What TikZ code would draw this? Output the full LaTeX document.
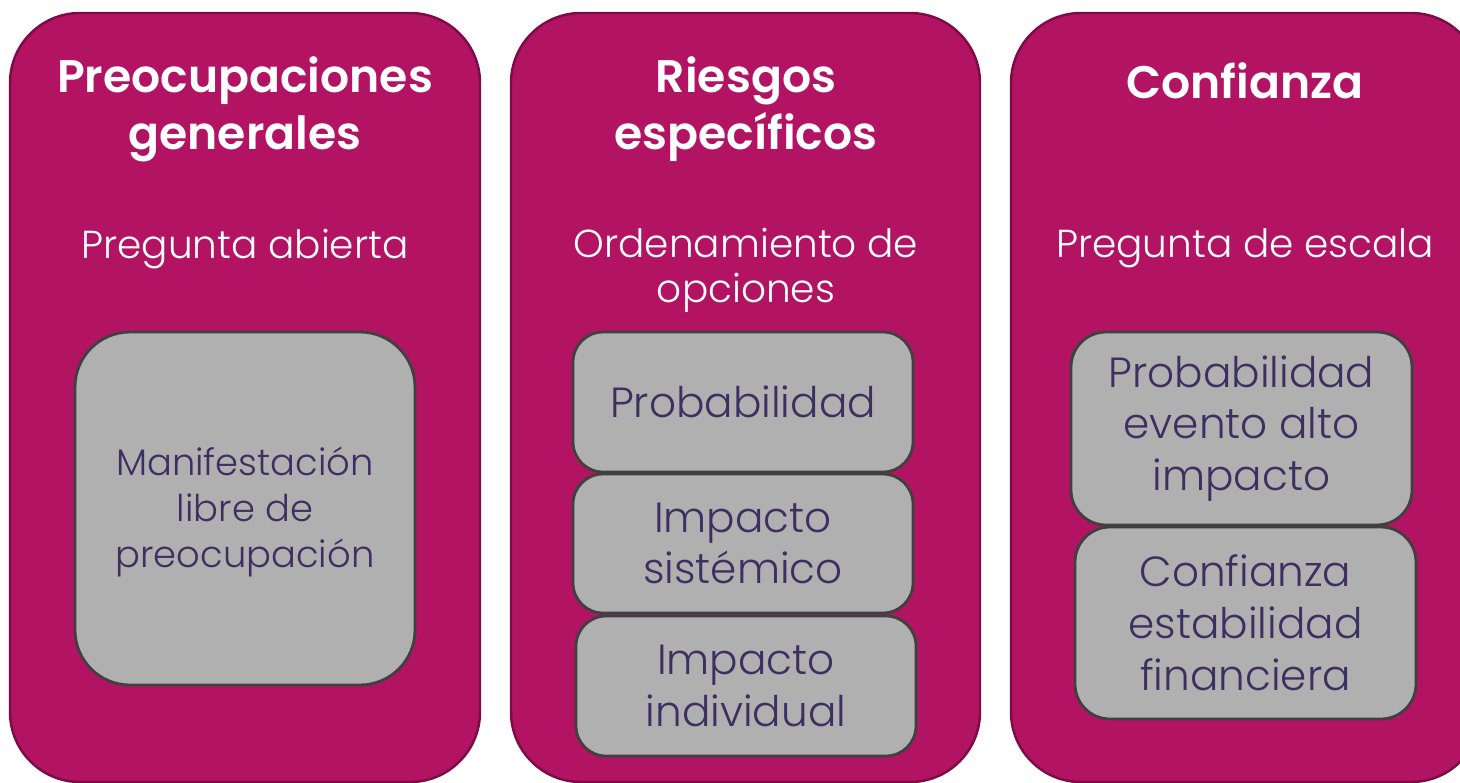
\documentclass[tikz,border=0pt]{standalone}
\usepackage{fontspec}
\setmainfont{Poppins}[UprightFont=* Light, BoldFont=* SemiBold]
\definecolor{magfill}{HTML}{B21463}
\definecolor{magline}{HTML}{7D0B45}
\definecolor{boxgray}{HTML}{B0B0B0}
\definecolor{boxline}{HTML}{404040}
\definecolor{txtpurple}{HTML}{3B3060}
\begin{document}
\begin{tikzpicture}[x=0.02cm,y=-0.02cm,
  panel/.style={fill=magfill,draw=magline,line width=1.4pt,rounded corners=1.4cm},
  ttl/.style={text=white,font=\fontsize{26}{32.5}\selectfont\bfseries,align=center,inner sep=0pt},
  sub/.style={text=white,font=\fontsize{22.2}{25.5}\selectfont,align=center,inner sep=0pt},
  item/.style={fill=boxgray,draw=boxline,line width=1.6pt,text=txtpurple,align=center,inner sep=0pt,font=\fontsize{24}{29.5}\selectfont}]
\useasboundingbox (0,0) rectangle (1460,782);
% panels
\draw[panel] (10,13) rectangle (480,782);
\draw[panel] (511,13) rectangle (980,782);
\draw[panel] (1011,13) rectangle (1481,782);
% titles
\node[ttl] (t1) at (245,109) {Preocupaciones\\generales};
\node[ttl] (t2) at (746,109) {Riesgos\\específicos};
\node[ttl] (t3) at (1245,81) {Confianza};
\node[sub] (s1) at (245,249) {Pregunta abierta};
\node[sub] (s2) at (746,270) {Ordenamiento de\\opciones};
\node[sub] (s3) at (1245,248) {Pregunta de escala};
% column 1
\node[item,rounded corners=1.1cm,minimum width=340*0.02cm,minimum height=353*0.02cm] (m1) at (245,508.5) {};
\node[text=txtpurple,align=center,inner sep=0pt,font=\fontsize{21}{26}\selectfont] (m1t) at (245,512) {Manifestación\\libre de\\preocupación};
% column 2
\node[item,rounded corners=0.6cm,minimum width=340*0.02cm,minimum height=140*0.02cm] (p2) at (743,402) {Probabilidad};
\node[item,rounded corners=0.6cm,minimum width=340*0.02cm,minimum height=139*0.02cm] (i2) at (743,543.5) {Impacto\\sistémico};
\node[item,rounded corners=0.6cm,minimum width=340*0.02cm,minimum height=140*0.02cm] (d2) at (746,686) {Impacto\\individual};
% column 3
\node[item,rounded corners=0.7cm,minimum width=341*0.02cm,minimum height=193*0.02cm] (p3) at (1241.5,428.5) {Probabilidad\\evento alto\\impacto};
\node[item,rounded corners=0.7cm,minimum width=341*0.02cm,minimum height=192*0.02cm] (c3) at (1245.5,623) {Confianza\\estabilidad\\financiera};
\end{tikzpicture}
\end{document}
